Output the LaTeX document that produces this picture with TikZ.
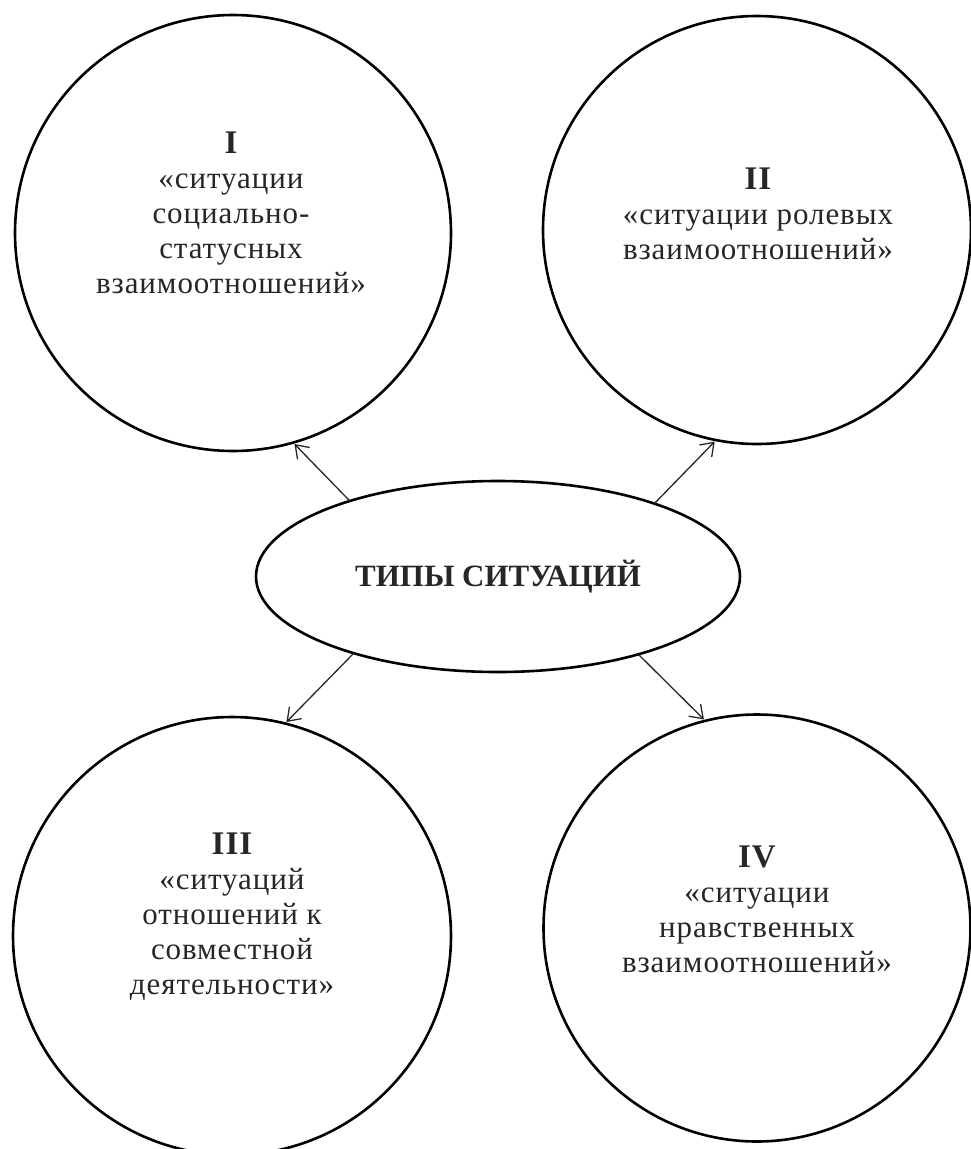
\documentclass[tikz,border=0pt]{standalone}
\usepackage{fontspec}
\setmainfont{Liberation Serif}
\newfontfamily\spacedserif[LetterSpace=3]{Liberation Serif}
\usetikzlibrary{shapes.geometric,arrows.meta}
\begin{document}
\begin{tikzpicture}[x=1pt,y=-1pt,
  circ/.style={circle,draw=black,line width=2.6pt,inner sep=0pt,outer sep=0pt},
  oval/.style={ellipse,draw=black,line width=2.6pt,inner sep=0pt,outer sep=0pt,
    minimum width=484pt,minimum height=191pt,text=black!85,
    font=\fontsize{31}{35}\selectfont\bfseries},
  lbl/.style={align=center,anchor=north,inner sep=0pt,text=black!85,
    font=\spacedserif\fontsize{31}{35}\selectfont},
  num/.style={font=\fontsize{33}{35}\selectfont\bfseries},
  arr/.style={draw=black!85,line width=1.3pt,shorten >=2pt,
    -{Straight Barb[length=12pt,width=17pt,line width=1.3pt]}}]
\useasboundingbox (0,0) rectangle (970,1149);
\node[circ,minimum size=436pt] (c1) at (233,233) {};
\node[circ,minimum size=428pt] (c2) at (757,230) {};
\node[circ,minimum size=438pt] (c3) at (232,936) {};
\node[circ,minimum size=427pt] (c4) at (757,928) {};
\node[oval] (t) at (498,576.5) {ТИПЫ СИТУАЦИЙ};
\node[lbl] (l1) at (231,132) {{\bfseries\fontsize{33}{35}\selectfont I}\\«ситуации\\социально-\\статусных\\взаимоотношений»};
\node[lbl] (l2) at (758,168) {{\bfseries\fontsize{33}{35}\selectfont II}\\«ситуации ролевых\\взаимоотношений»};
\node[lbl] (l3) at (232,833) {{\bfseries\fontsize{33}{35}\selectfont III}\\«ситуаций\\отношений к\\совместной\\деятельности»};
\node[lbl] (l4) at (757,846) {{\bfseries\fontsize{33}{35}\selectfont IV}\\«ситуации\\нравственных\\взаимоотношений»};
\draw[arr] (t.153.7) -- (c1.-74.6);
\draw[arr] (t.25.1) -- (c2.-101.4);
\draw[arr] (t.208) -- (c3.76.8);
\draw[arr] (t.-29) -- (c4.104.4);
\end{tikzpicture}
\end{document}
